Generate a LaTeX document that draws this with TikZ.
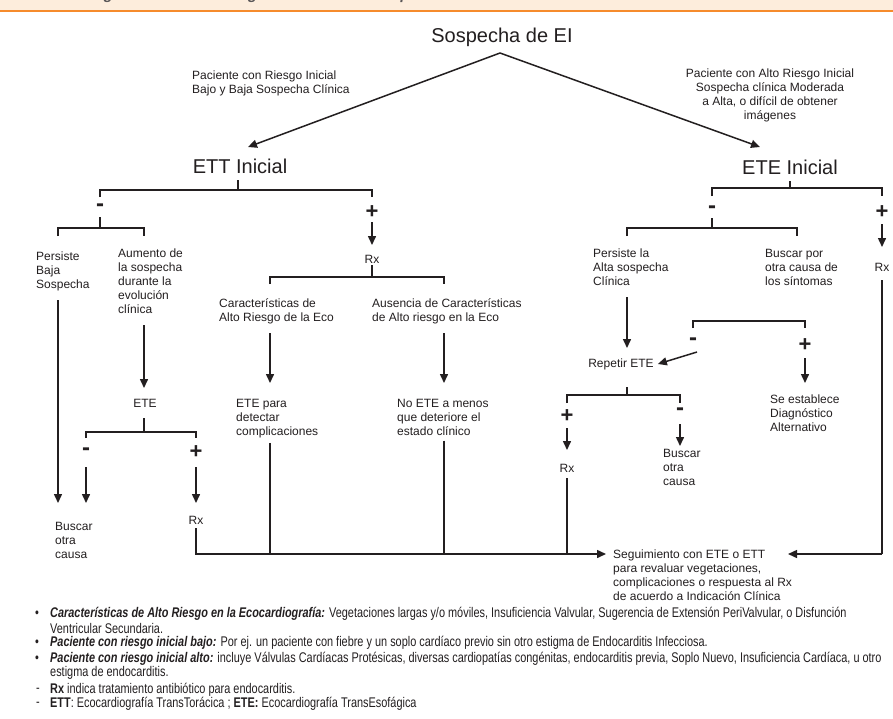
\documentclass[tikz,border=0pt]{standalone}
\usepackage{fontspec}
\setmainfont{Liberation Sans}
\newfontfamily\cond[FakeStretch=0.78]{Liberation Sans}
\usetikzlibrary{arrows.meta}
\definecolor{ink}{HTML}{231F20}
\definecolor{peach}{HTML}{FDEDDC}
\definecolor{orng}{HTML}{F68B2C}
\newcommand\mystrut{\rule{0pt}{10pt}}
\begin{document}
\begin{tikzpicture}[x=1pt,y=-1pt,
  ln/.style={line width=1.5pt,draw=ink},
  arr/.style={ln,-{Triangle[length=9pt,width=8pt]}},
  txt/.style={font=\fontsize{12}{14}\selectfont,align=left,anchor=north west,inner sep=0pt,text=ink},
  ctxt/.style={font=\fontsize{12}{14}\selectfont,align=center,inner sep=0pt,text=ink},
  big/.style={font=\fontsize{20}{24}\selectfont,inner sep=0pt,text=ink},
  sgnp/.style={font=\fontsize{22}{22}\selectfont\bfseries,inner sep=0pt,text=ink},
  sgnm/.style={font=\fontsize{24}{24}\selectfont\bfseries,inner sep=0pt,text=ink},
  note/.style={font=\cond\fontsize{14}{16}\selectfont,anchor=west,inner sep=0pt,text=ink},
]
\useasboundingbox (0,0) rectangle (893,718);
\fill[white] (0,0) rectangle (893,718);
% banner
\fill[peach] (0,0) rectangle (893,10);
\begin{scope}
\clip (0,0) rectangle (893,10);
\node[anchor=base west,inner sep=0pt,text=ink!75,font=\fontsize{15}{15}\selectfont\bfseries\itshape] (banner) at (22,-0.5) {Uso estratégico de la ecocardiografía en caso de sospecha de endocarditis infecciosa};
\end{scope}
\draw[orng,line width=2.4pt] (0,11.2) -- (893,11.2);

% top
\node[big] (sosp) at (502,37) {Sospecha de EI};
\coordinate (apex) at (500,53);
\node[big] (ett) at (240,166) {ETT Inicial};
\node[big] (ete) at (790,167) {ETE Inicial};
\coordinate (ettin) at (248,147);
\coordinate (etein) at (760,147);
\draw[arr] (apex) -- (ettin);
\draw[arr] (apex) -- (etein);
\node[txt] (lowlab) at (192,69) {\mystrut Paciente con Riesgo Inicial\\Bajo y Baja Sospecha Clínica};
\node[ctxt,anchor=north] (highlab) at (770,67) {\mystrut Paciente con Alto Riesgo Inicial\\Sospecha clínica Moderada\\a Alta, o difícil de obtener\\imágenes};

% ETT tree
\coordinate (ettst) at (238,180);
\coordinate (ettbr) at (238,190);
\coordinate (ettL) at (100,190);
\coordinate (ettR) at (372,190);
\draw[ln] (ettst) -- (ettbr);
\draw[ln] (100,197) -- (ettL) -- (ettR) -- (372,197);
\node[sgnm] (m1) at (100,208) {-};
\coordinate (m1br) at (100,228);
\draw[ln] (100,217) -- (m1br);
\draw[ln] (58,236) -- (58,228) -- (144,228) -- (144,236);
\node[sgnp] (p1) at (372,212) {+};
\coordinate (p1a) at (372,222);
\node[ctxt] (rx1) at (372,259) {Rx};
\draw[arr] (p1a) -- (372,245);
\draw[ln] (rx1.south) ++(0,2) -- (372,277);
\draw[ln] (270,284) -- (270,277) -- (444,277) -- (444,284);

% left subtree
\node[txt] (pers) at (36,250) {\mystrut Persiste\\Baja\\Sospecha};
\node[txt] (aum) at (118,247) {\mystrut Aumento de\\la sospecha\\durante la\\evolución\\clínica};
\coordinate (persa) at (58,300);
\coordinate (persb) at (58,503);
\draw[arr] (persa) -- (persb);
\coordinate (auma) at (144,325);
\coordinate (aumb) at (144,388);
\draw[arr] (auma) -- (aumb);
\node[ctxt] (ete2) at (145,403) {ETE};
\draw[ln] (144,418) -- (144,432);
\draw[ln] (86,438) -- (86,432) -- (196,432) -- (196,438);
\node[sgnm] (m2) at (86,452) {-};
\node[sgnp] (p2) at (196,452) {+};
\draw[arr] (86,467) -- (86,503);
\draw[arr] (196,467) -- (196,503);
\node[ctxt] (rx2) at (196,520) {Rx};
\node[txt] (busc1) at (55,520) {\mystrut Buscar\\otra\\causa};

% center subtree
\node[txt] (car) at (219,297) {\mystrut Características de\\Alto Riesgo de la Eco};
\node[txt] (aus) at (372,297) {\mystrut Ausencia de Características\\de Alto riesgo en la Eco};
\draw[arr] (270,333) -- (270,383);
\draw[arr] (444,333) -- (444,383);
\node[txt] (etep) at (236,397) {\mystrut ETE para\\detectar\\complicaciones};
\node[txt] (noete) at (397,397) {\mystrut No ETE a menos\\que deteriore el\\estado clínico};

% follow-up
\node[txt] (seg) at (613,548) {\mystrut Seguimiento con ETE o ETT\\para revaluar vegetaciones,\\complicaciones o respuesta al Rx\\de acuerdo a Indicación Clínica};
\coordinate (segL) at (606,554);
\coordinate (segR) at (788,554);
\draw[ln] (rx2.south) ++(0,4) -- (196,554) -- (270,554);
\draw[arr] (270,554) -- (segL);
\draw[ln] (etep.south -| 270,0) ++(0,5) -- (270,554);
\draw[ln] (noete.south -| 444,0) ++(0,5) -- (444,554);

% ETE tree
\draw[ln] (790,181) -- (790,188);
\draw[ln] (712,196) -- (712,188) -- (882,188) -- (882,196);
\node[sgnm] (m3) at (712,210) {-};
\draw[ln] (712,218) -- (712,228);
\draw[ln] (627,236) -- (627,228) -- (797,228) -- (797,236);
\node[sgnp] (p3) at (882,212) {+};
\draw[arr] (882,224) -- (882,247);
\node[ctxt] (rx3) at (882,267) {Rx};
\draw[ln] (882,280) -- (882,554);
\draw[arr] (882,554) -- (segR);
\node[txt] (persla) at (593,247) {\mystrut Persiste la\\Alta sospecha\\Clínica};
\node[txt] (buscpor) at (765,247) {\mystrut Buscar por\\otra causa de\\los síntomas};
\draw[arr] (627,297) -- (627,348);
\node[ctxt] (rep) at (621,364) {Repetir ETE};
\draw[ln] (693,328) -- (693,321) -- (805,321) -- (805,328);
\node[sgnm] (m4) at (693,342) {-};
\node[sgnp] (p4) at (805,345) {+};
\draw[arr] (697,352) -- ([xshift=4pt]rep.east);
\draw[arr] (805,358) -- (805,383);
\node[txt] (alt) at (770,393) {\mystrut Se establece\\Diagnóstico\\Alternativo};
\draw[ln] (627,387) -- (627,395);
\draw[ln] (567,403) -- (567,395) -- (680,395) -- (680,403);
\node[sgnp] (p5) at (567,416) {+};
\node[sgnm] (m5) at (680,412) {-};
\draw[arr] (567,428) -- (567,450);
\draw[arr] (680,424) -- (680,446);
\node[ctxt] (rx4) at (567,468) {Rx};
\draw[ln] (567,478) -- (567,554);
\node[txt] (busc2) at (663,447) {\mystrut Buscar\\otra\\causa};

% footnotes
\node[note] (b1) at (35,614) {•};
\node[note] (n1) at (50,614) {\textbf{\textit{Características de Alto Riesgo en la Ecocardiografía:}} Vegetaciones largas y/o móviles, Insuficiencia Valvular, Sugerencia de Extensión PeriValvular, o Disfunción};
\node[note] (n1b) at (50,628) {Ventricular Secundaria.};
\node[note] (b2) at (35,643) {•};
\node[note] (n2) at (50,643) {\textbf{\textit{Paciente con riesgo inicial bajo:}} Por ej. un paciente con fiebre y un soplo cardíaco previo sin otro estigma de Endocarditis Infecciosa.};
\node[note] (b3) at (35,659) {•};
\node[note] (n3) at (50,659) {\textbf{\textit{Paciente con riesgo inicial alto:}} incluye Válvulas Cardíacas Protésicas, diversas cardiopatías congénitas, endocarditis previa, Soplo Nuevo, Insuficiencia Cardíaca, u otro};
\node[note] (n3b) at (50,673) {estigma de endocarditis.};
\node[note] (d1) at (36,690) {-};
\node[note] (n4) at (50,690) {\textbf{Rx} indica tratamiento antibiótico para endocarditis.};
\node[note] (d2) at (36,704) {-};
\node[note] (n5) at (50,704) {\textbf{ETT}: Ecocardiografía TransTorácica ; \textbf{ETE:} Ecocardiografía TransEsofágica};
\end{tikzpicture}
\end{document}
